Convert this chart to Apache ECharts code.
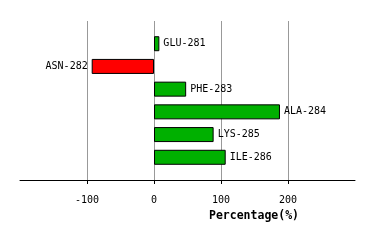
<!DOCTYPE html>
<html>
<head>
<meta charset="utf-8">
<script src="https://cdn.jsdelivr.net/npm/echarts@6/dist/echarts.min.js"></script>
<style>html,body{margin:0;padding:0;background:#fff}#c{width:374px;height:240px}</style>
</head>
<body>
<div id="c"></div>
<script>
var categories = ['GLU-281', 'ASN-282', 'PHE-283', 'ALA-284', 'LYS-285', 'ILE-286'];
var values = [8, -93, 48, 188, 89, 107];
var tickValues = [-100, 0, 100, 200];
var axisName = 'Percentage(%)';

var cats = [''].concat(categories).concat(['']);
var data = [null].concat(values.map(function (v) {
  return {
    value: v,
    itemStyle: { color: v < 0 ? '#ff0000' : '#00b000' },
    label: { position: v < 0 ? 'left' : 'right' }
  };
})).concat([null]);

var chart = echarts.init(document.getElementById('c'), null, { renderer: 'canvas' });
chart.setOption({
  animation: false,
  grid: { left: 20, right: 19, top: 21, bottom: 60, containLabel: false },
  xAxis: {
    type: 'value', min: -200, max: 300, interval: 100,
    axisLine: { show: true, onZero: false, lineStyle: { color: '#000', width: 1 } },
    axisTick: { show: true, inside: false, length: 4, customValues: tickValues, lineStyle: { color: '#000', width: 1 } },
    axisLabel: { customValues: tickValues, margin: 15, fontFamily: 'DejaVu Sans Mono', fontSize: 10, color: '#000' },
    splitLine: { show: true, lineStyle: { color: '#999', width: 1 } },
    name: axisName, nameLocation: 'middle', nameGap: 29,
    nameTextStyle: { fontFamily: 'DejaVu Sans Mono', fontWeight: 'bold', fontSize: 11.5, color: '#000', padding: [0, 0, 0, 133] }
  },
  yAxis: {
    type: 'category', data: cats, inverse: true, boundaryGap: false,
    axisLine: { show: false }, axisTick: { show: false }, axisLabel: { show: false }, splitLine: { show: false }
  },
  series: [{
    type: 'bar', data: data, barWidth: 15,
    itemStyle: { borderColor: '#000', borderWidth: 1 },
    label: { show: true, formatter: function (p) { return p.name; }, distance: 4,
      fontFamily: 'DejaVu Sans Mono', fontSize: 10, color: '#000' }
  }]
});
</script>
</body>
</html>
